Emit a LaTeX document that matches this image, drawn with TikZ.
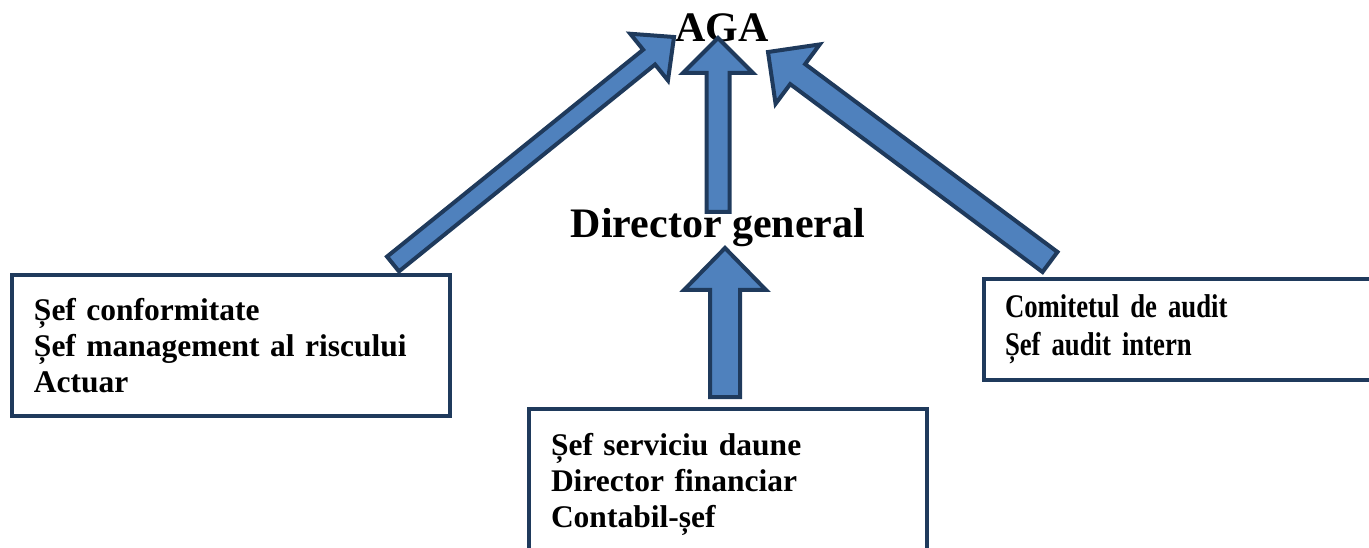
\documentclass[tikz,border=0pt]{standalone}
\usepackage{fontspec}
\setmainfont{Liberation Serif}
\newfontfamily\narrowserif[FakeStretch=0.81]{Liberation Serif}
\usetikzlibrary{calc}
\definecolor{arrfill}{HTML}{4F81BD}
\definecolor{arrline}{HTML}{1F3A5C}
\tikzstyle{every picture}+=[x=1pt,y=-1pt]
\tikzstyle{every picture}+=[line join=miter]
\tikzstyle{orgbox}+=[draw=arrline, line width=4pt, fill=white]
\tikzstyle{orgbox}+=[anchor=north west, align=left, inner xsep=22pt]
\tikzstyle{orgbox}+=[font=\bfseries\fontsize{31.5}{36}\selectfont]
\tikzstyle{title}+=[inner sep=0pt, anchor=base]
\tikzstyle{title}+=[font=\bfseries\fontsize{42}{46}\selectfont]
\tikzstyle{blockarrow}+=[draw=arrline, line width=4pt, fill=arrfill]
\newcommand{\blockarr}[5]{%
  \coordinate (hb) at ($(#2)!#5!(#1)$);
  \draw[blockarrow] ($(#1)!#3!90:(#2)$) -- ($(hb)!#3!90:(#2)$)
    -- ($(hb)!#4!90:(#2)$) -- (#2) -- ($(hb)!#4!-90:(#2)$)
    -- ($(hb)!#3!-90:(#2)$) -- ($(#1)!#3!-90:(#2)$) -- cycle;}

\begin{document}
\begin{tikzpicture}
\useasboundingbox (0,0) rectangle (1369,548);
\clip (0,0) rectangle (1369,548);

\node[orgbox, minimum width=438, minimum height=141, text width=394] (risk) at (10,273)
  {Șef conformitate\\Șef management al riscului\\Actuar};
\node[orgbox, minimum width=398, minimum height=150, text width=354] (fin) at (527,407)
  {Șef serviciu daune\\Director financiar\\Contabil-șef};
\node[orgbox, minimum width=400, minimum height=101, text width=358, inner xsep=20pt,
  font=\bfseries\narrowserif\fontsize{33}{38}\selectfont] (audit) at (982,277)
  {Comitetul de audit\\Șef audit intern};

\node[title] (aga) at (722,42) {AGA};
\node[title] (dg) at (718,238) {Director general};

\coordinate (riskout) at (393,264);
\coordinate (riskin) at (674,37);
\coordinate (dgout) at (718,212);
\coordinate (dgin) at (718,38);
\coordinate (finout) at (725,397);
\coordinate (finin) at (725,248);
\coordinate (auditout) at (1050,262);
\coordinate (auditin) at (768,52);

\blockarr{riskout}{riskin}{9.5pt}{30pt}{32pt}
\blockarr{dgout}{dgin}{11.5pt}{35pt}{35pt}
\blockarr{finout}{finin}{15pt}{41pt}{42pt}
\blockarr{auditout}{auditin}{12.5pt}{37pt}{37pt}
\end{tikzpicture}
\end{document}
